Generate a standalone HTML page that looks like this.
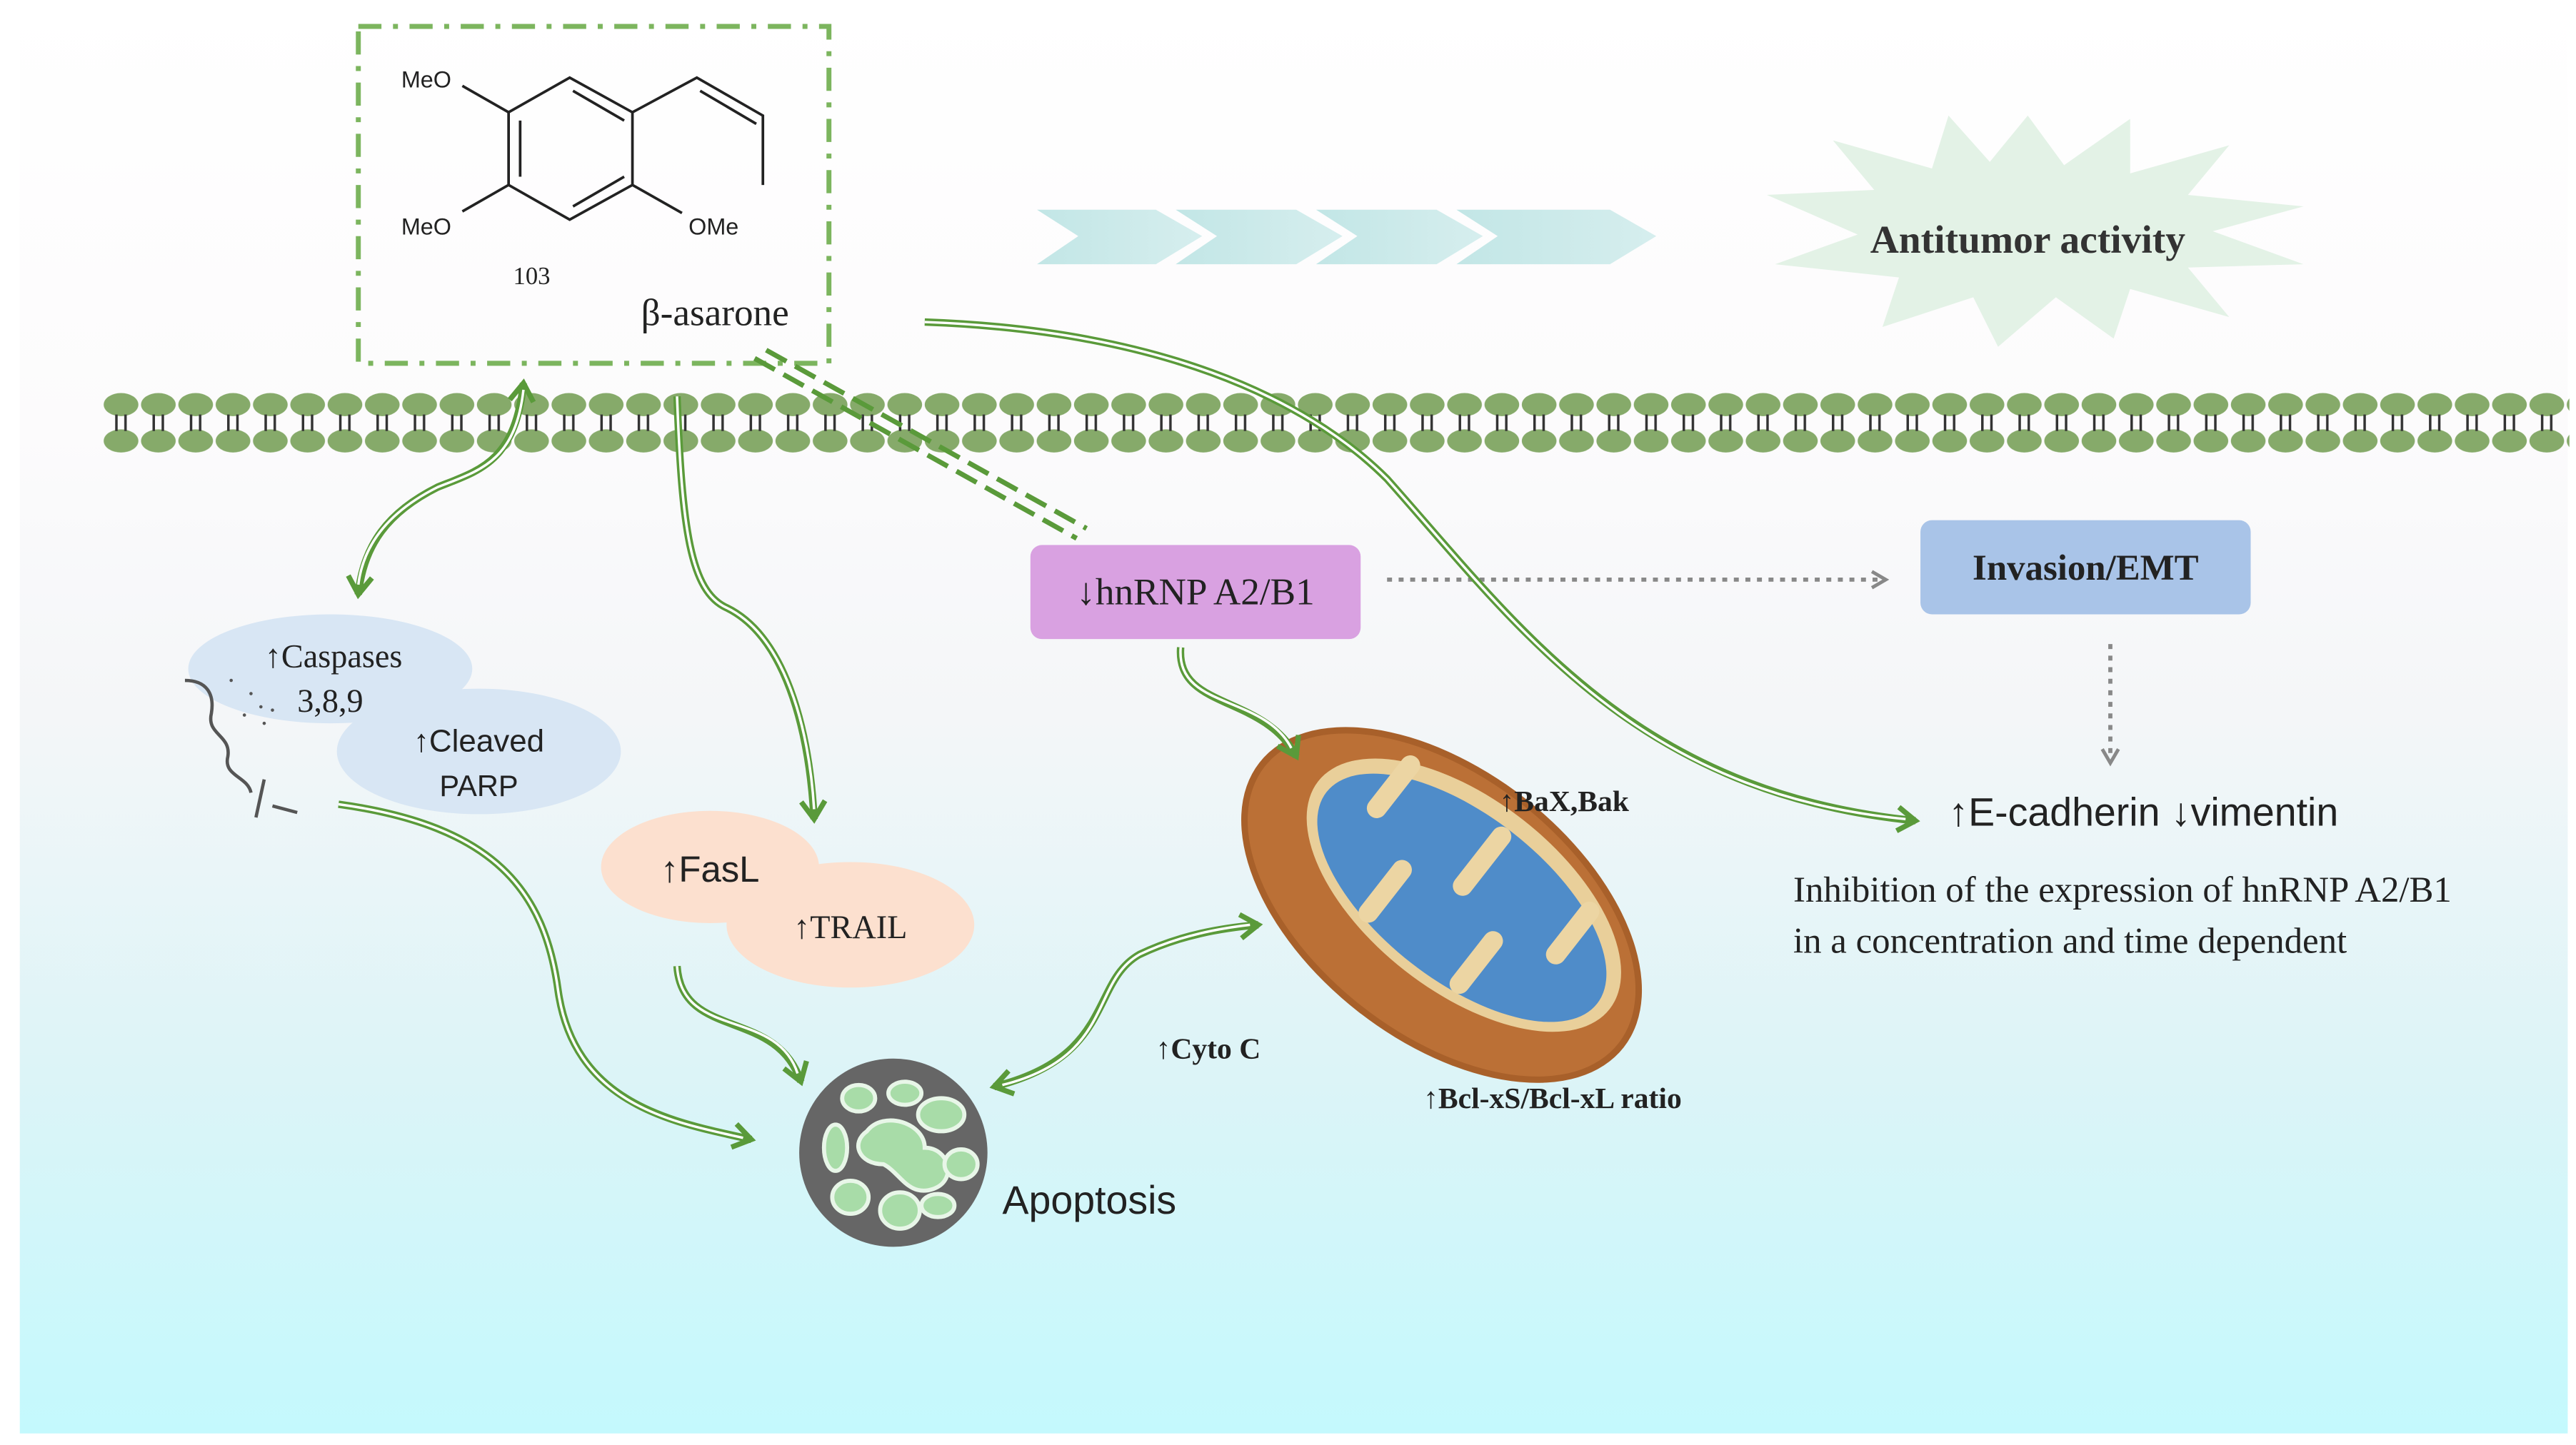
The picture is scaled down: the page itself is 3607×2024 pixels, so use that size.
<!DOCTYPE html>
<html><head><meta charset="utf-8"><style>html,body{margin:0;padding:0;background:#fff}svg{display:block}</style></head>
<body>
<svg width="3607" height="2024" viewBox="0 0 1560 875" preserveAspectRatio="none" xmlns="http://www.w3.org/2000/svg">
<defs>
<linearGradient id="bg" x1="0" y1="0" x2="0" y2="1">
<stop offset="0" stop-color="#ffffff"/><stop offset="0.3" stop-color="#fcfbfc"/><stop offset="0.5" stop-color="#f4f6f8"/><stop offset="0.75" stop-color="#dcf4f7"/><stop offset="1" stop-color="#c4f9fd"/>
</linearGradient>
<linearGradient id="chev" x1="0" x2="1"><stop offset="0" stop-color="#c2e6e6"/><stop offset="1" stop-color="#d6eeee"/></linearGradient>
<marker id="ah" viewBox="0 0 20 20" refX="15" refY="10" markerWidth="18" markerHeight="18" orient="auto-start-reverse" markerUnits="userSpaceOnUse">
<polyline points="3,2 15,10 3,18" fill="none" stroke="#5a9a3a" stroke-width="3.5"/>
</marker>
<marker id="ahg" viewBox="0 0 20 20" refX="15" refY="10" markerWidth="14" markerHeight="14" orient="auto" markerUnits="userSpaceOnUse">
<polyline points="3,3 15,10 3,17" fill="none" stroke="#888" stroke-width="3"/>
</marker>
<pattern id="mem" x="62" y="238" width="22.6" height="36" patternUnits="userSpaceOnUse">
<ellipse cx="11.3" cy="7" rx="10.5" ry="7" fill="#86aa6a"/>
<ellipse cx="11.3" cy="29" rx="10.5" ry="7" fill="#86aa6a"/>
<line x1="8.5" y1="13" x2="8.5" y2="23" stroke="#333" stroke-width="1.5"/>
<line x1="14" y1="13" x2="14" y2="23" stroke="#333" stroke-width="1.5"/>
</pattern>
</defs>
<rect x="12" y="0" width="1543" height="868" fill="url(#bg)"/>

<!-- membrane -->
<rect x="62" y="238" width="1494" height="36" fill="url(#mem)"/>

<!-- chevrons -->
<g fill="url(#chev)">
<polygon points="628,127 700,127 728,143 700,160 628,160 653,143"/>
<polygon points="712,127 785,127 813,143 785,160 712,160 737,143"/>
<polygon points="797,127 870,127 898,143 870,160 797,160 822,143"/>
<polygon points="882,127 975,127 1003,143 975,160 882,160 907,143"/>
</g>
<!-- starburst -->
<polygon fill="#e3f2e6" points="1228,70 1250,100 1290,72 1290,105 1350,88 1325,118 1395,125 1340,140 1395,160 1325,162 1350,192 1290,175 1280,205 1245,180 1210,210 1195,180 1140,198 1150,168 1075,160 1125,142 1070,118 1135,115 1110,85 1170,102 1180,70 1205,98"/>
<text x="1228" y="153" text-anchor="middle" font-family="Liberation Serif" font-weight="bold" font-size="24" fill="#333">Antitumor activity</text>

<!-- dashed box -->
<rect x="217" y="16" width="285" height="204" fill="none" stroke="#7cb55e" stroke-width="3" stroke-dasharray="14,7,3,7"/>
<!-- molecule -->
<g stroke="#222" stroke-width="1.6" fill="none">
<polygon points="308,68 345,47 383,68 383,112 345,133 308,112"/>
<line x1="315" y1="73" x2="315" y2="107"/>
<line x1="347" y1="55" x2="378" y2="73"/>
<line x1="347" y1="125" x2="378" y2="107"/>
<line x1="308" y1="68" x2="280" y2="52"/>
<line x1="308" y1="112" x2="280" y2="128"/>
<line x1="383" y1="112" x2="413" y2="129"/>
<polyline points="383,68 422,47 462,70 462,112"/>
<line x1="424" y1="55" x2="458" y2="75"/>
</g>
<g font-family="Liberation Sans" font-size="14" fill="#222">
<text x="243" y="53">MeO</text><text x="243" y="142">MeO</text><text x="417" y="142">OMe</text>
</g>
<text x="322" y="172" text-anchor="middle" font-family="Liberation Serif" font-size="15" fill="#222">103</text>
<text x="433" y="197" text-anchor="middle" font-family="Liberation Serif" font-size="23" fill="#222">β-asarone</text>

<!-- double dashed line -->
<g stroke="#5a9a3a" stroke-width="3" stroke-dasharray="14,6">
<line x1="457" y1="217" x2="652" y2="326"/><line x1="464" y1="212" x2="658" y2="320"/>
</g>

<!-- boxes -->
<rect x="624" y="330" width="200" height="57" rx="7" fill="#d9a1e1"/>
<text x="724" y="366" text-anchor="middle" font-family="Liberation Serif" font-size="23" fill="#222">↓hnRNP A2/B1</text>
<rect x="1163" y="315" width="200" height="57" rx="7" fill="#a9c4e8"/>
<text x="1263" y="351" text-anchor="middle" font-family="Liberation Serif" font-weight="bold" font-size="22" fill="#222">Invasion/EMT</text>
<line x1="840" y1="351" x2="1142" y2="351" stroke="#888" stroke-width="2.5" stroke-dasharray="3,4" marker-end="url(#ahg)"/>
<line x1="1278" y1="390" x2="1278" y2="462" stroke="#888" stroke-width="2.5" stroke-dasharray="3,4" marker-end="url(#ahg)"/>

<text x="1180" y="500" font-family="Liberation Sans" font-size="24" fill="#222">↑E-cadherin ↓vimentin</text>
<text x="1086" y="546" font-family="Liberation Serif" font-size="22" fill="#222">Inhibition of the expression of hnRNP A2/B1</text>
<text x="1086" y="577" font-family="Liberation Serif" font-size="22" fill="#222">in a concentration and time dependent</text>

<!-- caspases -->
<ellipse cx="200" cy="405" rx="86" ry="33" fill="#d8e6f4"/>
<ellipse cx="290" cy="455" rx="86" ry="38" fill="#d8e6f4"/>
<text x="202" y="404" text-anchor="middle" font-family="Liberation Serif" font-size="20" fill="#222">↑Caspases</text>
<text x="200" y="431" text-anchor="middle" font-family="Liberation Serif" font-size="20" fill="#222">3,8,9</text>
<text x="290" y="455" text-anchor="middle" font-family="Liberation Sans" font-size="19" fill="#222">↑Cleaved</text>
<text x="290" y="482" text-anchor="middle" font-family="Liberation Sans" font-size="18" fill="#222">PARP</text>
<path d="M112,412 C125,412 130,420 128,432 C125,445 140,445 138,458 C135,470 150,470 152,480 M160,472 L155,495 M165,488 L180,492" fill="none" stroke="#555" stroke-width="2"/>
<g fill="#555"><circle cx="140" cy="412" r="1"/><circle cx="152" cy="420" r="1"/><circle cx="158" cy="428" r="1"/><circle cx="148" cy="433" r="1"/><circle cx="160" cy="438" r="1"/><circle cx="165" cy="430" r="1"/></g>

<!-- FasL -->
<ellipse cx="430" cy="525" rx="66" ry="34" fill="#fce0cf"/>
<ellipse cx="515" cy="560" rx="75" ry="38" fill="#fce0cf"/>
<text x="430" y="534" text-anchor="middle" font-family="Liberation Sans" font-size="22" fill="#222">↑FasL</text>
<text x="515" y="568" text-anchor="middle" font-family="Liberation Serif" font-size="20" fill="#222">↑TRAIL</text>

<!-- apoptosis -->
<circle cx="541" cy="698" r="57" fill="#666"/>
<g fill="#a8dca8" stroke="#e8f6e8" stroke-width="2.5">
<ellipse cx="520" cy="665" rx="10" ry="8"/><ellipse cx="548" cy="662" rx="10" ry="7"/><ellipse cx="570" cy="675" rx="14" ry="10"/>
<path d="M525,685 C535,672 560,680 560,695 C575,695 580,715 565,720 C550,725 545,710 535,705 C520,705 515,692 525,685 Z"/>
<ellipse cx="506" cy="695" rx="7" ry="14"/><ellipse cx="582" cy="705" rx="10" ry="9"/>
<ellipse cx="515" cy="725" rx="11" ry="10"/><ellipse cx="545" cy="733" rx="12" ry="11"/><ellipse cx="568" cy="730" rx="10" ry="7"/>
</g>
<text x="607" y="735" font-family="Liberation Sans" font-size="24" fill="#222">Apoptosis</text>

<!-- mitochondrion -->
<g transform="rotate(38 873 548)">
<ellipse cx="873" cy="548" rx="140" ry="82" fill="#a8602a"/>
<ellipse cx="873" cy="548" rx="136" ry="78" fill="#bb7036"/>
<ellipse cx="880" cy="535" rx="112" ry="58" fill="#e9cf9a"/>
<ellipse cx="880" cy="537" rx="104" ry="50" fill="#4f8cc9"/>
<g fill="#ecd5a3"><rect x="800" y="487" width="12" height="45" rx="6"/><rect x="835" y="540" width="12" height="45" rx="6"/><rect x="870" y="487" width="12" height="50" rx="6"/><rect x="905" y="540" width="12" height="45" rx="6"/><rect x="940" y="490" width="12" height="45" rx="6"/></g>
</g>
<text x="908" y="491" font-family="Liberation Serif" font-weight="bold" font-size="18" fill="#222">↑BaX,Bak</text>
<text x="700" y="641" font-family="Liberation Serif" font-weight="bold" font-size="18" fill="#222">↑Cyto C</text>
<text x="862" y="671" font-family="Liberation Serif" font-weight="bold" font-size="18" fill="#222">↑Bcl-xS/Bcl-xL ratio</text>

<!-- green arrows -->
<g fill="none">
<g stroke="#5a9a3a" stroke-width="4.5">
<path d="M317,232 C312,280 290,285 265,295 C235,310 220,330 217,360" marker-start="url(#ah)" marker-end="url(#ah)"/>
<path d="M410,240 C413,320 418,358 440,368 C475,385 490,440 493,496" marker-end="url(#ah)"/>
<path d="M560,195 C700,200 790,240 840,290 C920,380 990,480 1160,497" marker-end="url(#ah)"/>
<path d="M715,392 C712,430 765,420 785,458" marker-end="url(#ah)"/>
<path d="M205,487 C300,500 330,540 338,600 C348,670 410,680 455,690" marker-end="url(#ah)"/>
<path d="M410,585 C413,630 470,610 485,655" marker-end="url(#ah)"/>
<path d="M602,658 C675,640 660,595 690,578 C715,566 740,562 762,560" marker-start="url(#ah)" marker-end="url(#ah)"/>
</g>
<g stroke="#fff" stroke-width="1.5">
<path d="M317,236 C312,280 290,285 265,295 C235,310 220,330 217,354"/>
<path d="M410,240 C413,320 418,358 440,368 C475,385 490,440 493,490"/>
<path d="M560,195 C700,200 790,240 840,290 C920,380 990,480 1154,496"/>
<path d="M715,392 C712,430 765,420 782,453"/>
<path d="M205,487 C300,500 330,540 338,600 C348,670 410,680 450,689"/>
<path d="M410,585 C413,630 470,610 483,650"/>
<path d="M607,657 C675,640 660,595 690,578 C715,566 740,562 757,560"/>
</g>
</g>
</svg>
</body></html>
